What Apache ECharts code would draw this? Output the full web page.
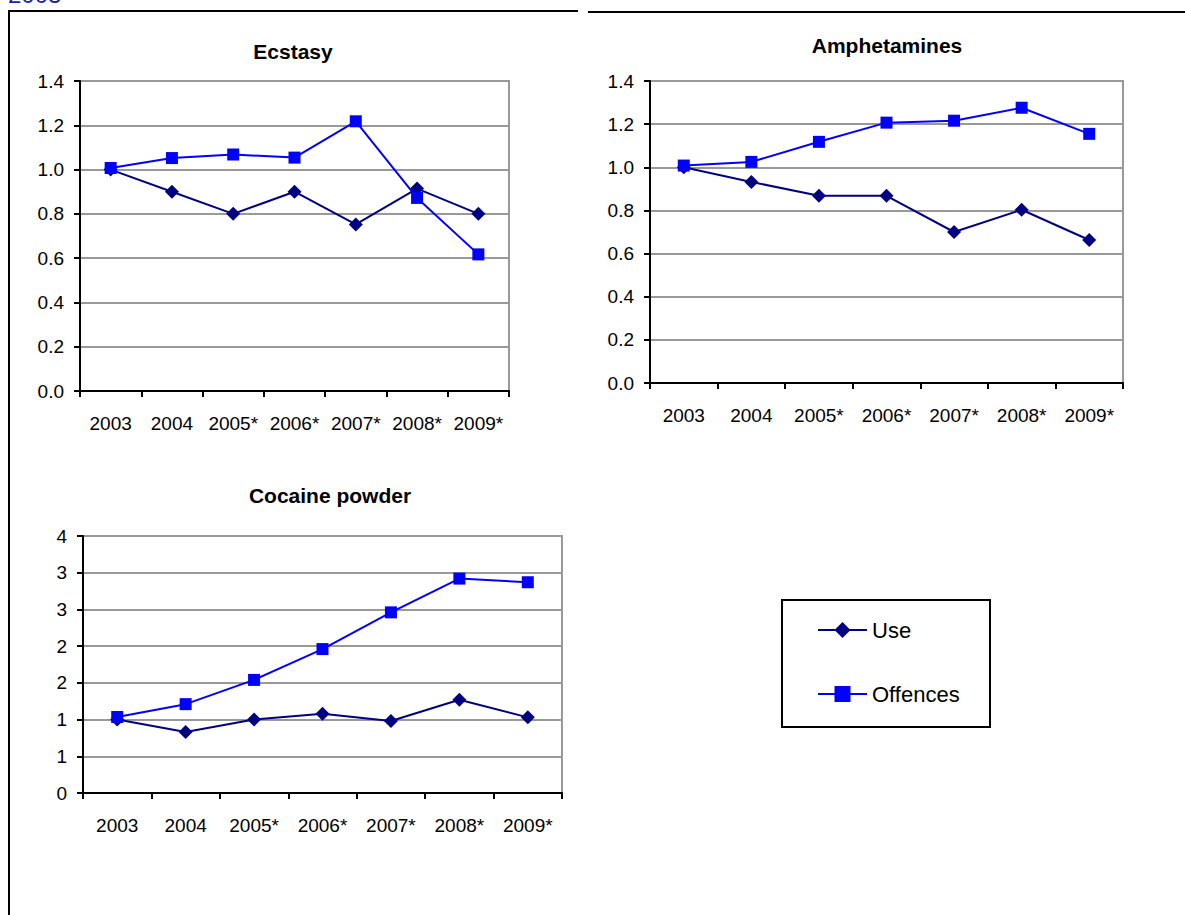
<!DOCTYPE html>
<html>
<head>
<meta charset="utf-8">
<script src="https://cdn.jsdelivr.net/npm/echarts@6/dist/echarts.min.js"></script>
<style>
html,body{margin:0;padding:0;background:#fff;}
#chart{width:1185px;height:915px;}
</style>
</head>
<body>
<div id="chart"></div>
<script>
// ---- data ----
const years = ['2003', '2004', '2005*', '2006*', '2007*', '2008*', '2009*'];

const ecstasyUse      = [1.00, 0.90, 0.80, 0.90, 0.752, 0.914, 0.80];
const ecstasyOffences = [1.007, 1.052, 1.068, 1.054, 1.218, 0.872, 0.617];

const amphUse      = [1.00, 0.932, 0.868, 0.868, 0.70, 0.803, 0.663];
const amphOffences = [1.008, 1.025, 1.118, 1.207, 1.216, 1.276, 1.155];

const cocaineUse      = [1.00, 0.83, 1.00, 1.08, 0.98, 1.27, 1.03];
const cocaineOffences = [1.035, 1.21, 1.54, 1.96, 2.46, 2.92, 2.87];

const cocaineTickLabels = ['0', '1', '1', '2', '2', '3', '3', '4'];
const seriesNames = ['Use', 'Offences'];
const headerText = '2003';

// ---- styles ----
const FONT = '"Liberation Sans", Arial, sans-serif';
const USE_COLOR = '#000080';
const OFF_COLOR = '#0000FF';

const grids = [
  {left: 80, top: 81, width: 429, height: 310},     // Ecstasy
  {left: 650, top: 81, width: 473, height: 302},    // Amphetamines
  {left: 83, top: 536, width: 479, height: 257}     // Cocaine
];

function xAxis(gi) {
  return {
    type: 'category', gridIndex: gi, data: years, boundaryGap: true,
    axisLine: {show: true, lineStyle: {color: '#000', width: 2}},
    axisTick: {show: true, interval: 0, length: 6, lineStyle: {color: '#000', width: 2}},
    axisLabel: {interval: 0, color: '#000', fontFamily: FONT, fontSize: 19, margin: 23},
    splitLine: {show: false}
  };
}
function yAxis(gi, max, interval, fmt) {
  return {
    type: 'value', gridIndex: gi, min: 0, max: max, interval: interval,
    axisLine: {show: true, lineStyle: {color: '#000', width: 2}},
    axisTick: {show: true, length: 6, lineStyle: {color: '#000', width: 2}},
    axisLabel: {color: '#000', fontFamily: FONT, fontSize: 19, margin: 16, formatter: fmt},
    splitLine: {show: true, lineStyle: {color: '#999', width: 2}}
  };
}
function lineSeries(name, gi, data) {
  const isUse = name === 'Use';
  const c = isUse ? USE_COLOR : OFF_COLOR;
  return {
    name: name, type: 'line', xAxisIndex: gi, yAxisIndex: gi, data: data,
    symbol: isUse ? 'diamond' : 'rect', symbolSize: isUse ? 14 : 12,
    showSymbol: true, smooth: false,
    lineStyle: {color: c, width: 2},
    itemStyle: {color: c, borderWidth: 0},
    emphasis: {disabled: true},
    z: isUse ? 2 : 3
  };
}
const fmt1 = v => v.toFixed(1);
const fmtCoc = (v, i) => cocaineTickLabels[i] !== undefined ? cocaineTickLabels[i] : String(Math.round(v));

const chart = echarts.init(document.getElementById('chart'), null, {renderer: 'svg'});
chart.setOption({
  animation: false,
  backgroundColor: '#fff',
  grid: grids.map(g => Object.assign({show: true, borderColor: '#999', borderWidth: 2, backgroundColor: 'transparent', containLabel: false}, g)),
  title: [
    {text: 'Ecstasy', left: 293, top: 41, textAlign: 'center', padding: 0,
     textStyle: {fontFamily: FONT, fontSize: 21, fontWeight: 'bold', color: '#000'}},
    {text: 'Amphetamines', left: 887, top: 35, textAlign: 'center', padding: 0,
     textStyle: {fontFamily: FONT, fontSize: 21, fontWeight: 'bold', color: '#000'}},
    {text: 'Cocaine powder', left: 330, top: 485, textAlign: 'center', padding: 0,
     textStyle: {fontFamily: FONT, fontSize: 21, fontWeight: 'bold', color: '#000'}}
  ],
  legend: {
    data: seriesNames, orient: 'vertical', left: 817, top: 619, padding: 0,
    itemWidth: 49, itemHeight: 20, itemGap: 42, selectedMode: false,
    textStyle: {fontFamily: FONT, fontSize: 22, color: '#000'}
  },
  xAxis: [xAxis(0), xAxis(1), xAxis(2)],
  yAxis: [yAxis(0, 1.4, 0.2, fmt1), yAxis(1, 1.4, 0.2, fmt1), yAxis(2, 3.5, 0.5, fmtCoc)],
  series: [
    lineSeries('Use', 0, ecstasyUse), lineSeries('Offences', 0, ecstasyOffences),
    lineSeries('Use', 1, amphUse), lineSeries('Offences', 1, amphOffences),
    lineSeries('Use', 2, cocaineUse), lineSeries('Offences', 2, cocaineOffences)
  ],
  graphic: [
    {type: 'text', left: 8, top: -18, silent: true,
     style: {text: headerText, fill: '#1f1f9f', font: '24px ' + FONT}},
    {type: 'line', silent: true, shape: {x1: 8, y1: 11, x2: 578, y2: 11}, style: {stroke: '#000', lineWidth: 2}},
    {type: 'line', silent: true, shape: {x1: 588, y1: 12, x2: 1185, y2: 12}, style: {stroke: '#000', lineWidth: 2}},
    {type: 'line', silent: true, shape: {x1: 9, y1: 10, x2: 9, y2: 915}, style: {stroke: '#000', lineWidth: 2}},
    {type: 'rect', silent: true, shape: {x: 782, y: 600, width: 208, height: 127}, style: {fill: 'none', stroke: '#000', lineWidth: 2}}
  ]
});
</script>
</body>
</html>
